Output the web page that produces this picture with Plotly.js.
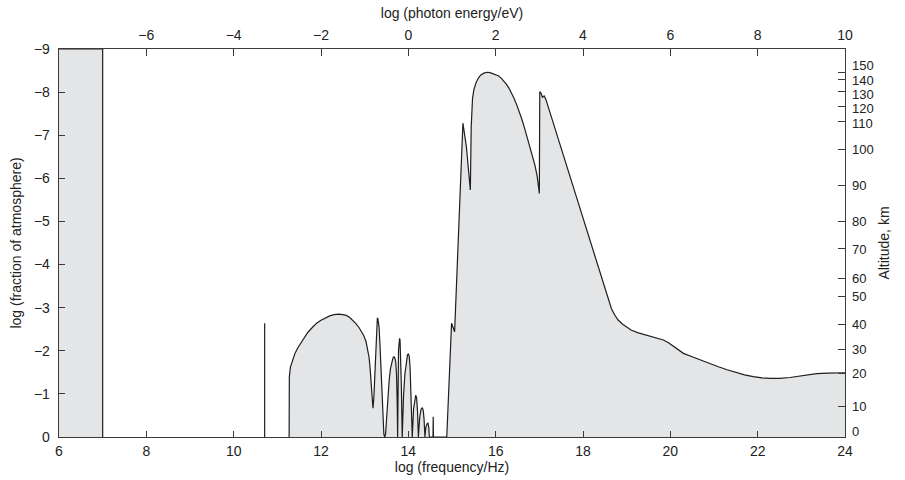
<!DOCTYPE html>
<html>
<head>
<meta charset="utf-8">
<script src="https://cdn.plot.ly/plotly-3.0.1.min.js"></script>
<style>html,body{margin:0;padding:0;background:#fff;}#chart{width:905px;height:480px;}</style>
</head>
<body>
<div id="chart"></div>
<script>
// log(frequency/Hz) and log(fraction of atmosphere) along the absorption boundary
const logFreq = [
  11.27, 11.275, 11.30, 11.35, 11.40, 11.47, 11.55, 11.62, 11.70, 11.80, 11.90, 12.00, 12.10, 12.20, 12.30,
  12.40, 12.50, 12.58, 12.66, 12.73, 12.80, 12.87, 12.93, 12.98, 13.03, 13.07, 13.10, 13.12, 13.14, 13.15,
  13.17, 13.19, 13.21, 13.23, 13.25, 13.27, 13.28, 13.29, 13.30, 13.31, 13.33, 13.35, 13.37, 13.40, 13.42,
  13.44, 13.46, 13.48, 13.50, 13.53, 13.56, 13.59, 13.62, 13.65, 13.67, 13.69, 13.71, 13.73, 13.745, 13.75,
  13.755, 13.775, 13.79, 13.80, 13.81, 13.82, 13.84, 13.86, 13.87, 13.89, 13.92, 13.95, 13.98, 14.00, 14.02,
  14.04, 14.06, 14.08, 14.09, 14.12, 14.15, 14.17, 14.19, 14.21, 14.23, 14.26, 14.29, 14.32, 14.34, 14.36,
  14.38, 14.40, 14.43, 14.45, 14.47, 14.48, 14.565, 14.57, 14.575, 14.88, 14.99, 15.06, 15.25, 15.33, 15.42,
  15.44, 15.45, 15.47, 15.50, 15.55, 15.60, 15.66, 15.73, 15.80, 15.87, 15.94, 16.00, 16.06, 16.12, 16.18,
  16.24, 16.30, 16.36, 16.42, 16.48, 16.54, 16.60, 16.66, 16.72, 16.78, 16.84, 16.90, 16.95, 16.98, 17.00,
  17.01, 17.04, 17.07, 17.11, 17.15, 17.47, 17.93, 18.31, 18.58, 18.65, 18.72, 18.80, 18.90, 19.00, 19.10,
  19.25, 19.40, 19.55, 19.70, 19.84, 19.95, 20.05, 20.11, 20.20, 20.30, 20.50, 20.70, 20.90, 21.10, 21.30,
  21.50, 21.70, 21.90, 22.10, 22.30, 22.50, 22.74, 22.95, 23.15, 23.35, 23.60, 24.00
];
const logFraction = [
  0, -1.40, -1.62, -1.80, -1.93, -2.07, -2.20, -2.32, -2.43, -2.54, -2.64, -2.71, -2.77, -2.81, -2.84,
  -2.85, -2.84, -2.82, -2.77, -2.71, -2.63, -2.54, -2.45, -2.35, -2.22, -2.05, -1.85, -1.65, -1.40, -1.15,
  -0.85, -0.67, -0.90, -1.45, -2.02, -2.55, -2.70, -2.75, -2.75, -2.70, -2.55, -2.15, -1.63, -0.80, -0.30,
  -0.06, 0, -0.08, -0.40, -0.95, -1.30, -1.58, -1.75, -1.84, -1.86, -1.83, -1.75, -1.45, -0.80, 0,
  0, -2.02, -2.24, -2.29, -2.24, -2.02, -1.20, 0, -0.50, -0.95, -1.45, -1.75, -1.90, -1.93, -1.87,
  -1.62, -1.10, -0.40, 0, -0.65, -0.92, -0.97, -0.90, -0.60, 0, -0.45, -0.64, -0.68, -0.62, -0.42,
  0, -0.22, -0.31, -0.32, -0.20, 0, 0, -0.47, 0, 0, -2.64, -2.44, -7.28, -6.73, -5.73,
  -7.20, -7.55, -7.85, -8.05, -8.22, -8.32, -8.40, -8.44, -8.46, -8.45, -8.43, -8.41, -8.38, -8.33, -8.27,
  -8.19, -8.10, -7.99, -7.86, -7.71, -7.55, -7.37, -7.17, -6.96, -6.74, -6.52, -6.30, -6.05, -5.85, -5.65,
  -8.01, -7.97, -7.88, -7.91, -7.83, -6.80, -5.29, -4.05, -3.18, -2.98, -2.84, -2.72, -2.62, -2.54, -2.48,
  -2.42, -2.38, -2.34, -2.30, -2.25, -2.19, -2.12, -2.08, -2.00, -1.94, -1.86, -1.78, -1.71, -1.63, -1.56,
  -1.50, -1.44, -1.40, -1.37, -1.36, -1.36, -1.38, -1.41, -1.44, -1.47, -1.48, -1.49
];
// low-frequency fully absorbed band
const blockFreq = [6, 7, 7];
const blockFraction = [-9, -9, 0];
// narrow line near 10.7
const lineFreq = [10.71, 10.71];
const lineFraction = [0, -2.64];

// axis ticks
const freqTicks = [6, 8, 10, 12, 14, 16, 18, 20, 22, 24];
const energyTicks = [-6, -4, -2, 0, 2, 4, 6, 8, 10];
const fractionTicks = [0, -1, -2, -3, -4, -5, -6, -7, -8, -9];
const altitudeLabels = ['0', '10', '20', '30', '40', '50', '60', '70', '80', '90', '100', '110', '120', '130', '140', '150'];
const altitudeTickFraction = [0, -0.70, -1.48, -2.02, -2.61, -3.27, -3.68, -4.38, -4.99, -5.83, -6.66, -7.33, -7.66, -8.01, -8.30, -8.45];
const altitudeLabelFraction = [-0.12, -0.70, -1.48, -2.02, -2.61, -3.25, -3.68, -4.34, -4.99, -5.83, -6.66, -7.28, -7.61, -7.94, -8.27, -8.61];

const FILL = '#e4e5e7';
const INK = '#1e1e1e';
const AX = '#3a3a3a';
const FONT = {family: 'Liberation Sans, Arial, sans-serif', size: 14, color: '#222'};

const traces = [
  {x: blockFreq, y: blockFraction, type: 'scatter', mode: 'lines', fill: 'tozeroy',
   fillcolor: FILL, line: {color: INK, width: 1.2}, hoverinfo: 'skip', showlegend: false},
  {x: logFreq, y: logFraction, type: 'scatter', mode: 'lines', fill: 'tozeroy',
   fillcolor: FILL, line: {color: INK, width: 1.2}, showlegend: false},
  {x: lineFreq, y: lineFraction, type: 'scatter', mode: 'lines',
   line: {color: INK, width: 1.2}, showlegend: false},
  // invisible traces to activate secondary axes
  {x: [-8, 10], y: [0, 0], xaxis: 'x2', yaxis: 'y', type: 'scatter', mode: 'lines',
   line: {width: 0}, hoverinfo: 'skip', showlegend: false},
  {x: [6, 24], y: [0, 0], xaxis: 'x', yaxis: 'y2', type: 'scatter', mode: 'lines',
   line: {width: 0}, hoverinfo: 'skip', showlegend: false},
  {x: [6, 24], y: [0, 0], xaxis: 'x', yaxis: 'y3', type: 'scatter', mode: 'lines',
   line: {width: 0}, hoverinfo: 'skip', showlegend: false}
];

const layout = {
  width: 905, height: 480,
  margin: {l: 59, r: 60, t: 49, b: 43},
  paper_bgcolor: '#fff', plot_bgcolor: '#fff',
  font: FONT,
  showlegend: false,
  xaxis: {
    range: [6, 24], tickvals: freqTicks, ticks: 'inside', ticklen: 6, tickcolor: AX, tickwidth: 1,
    showline: true, linecolor: AX, linewidth: 1.3, showgrid: false, zeroline: false,
    title: {text: 'log (frequency/Hz)', font: FONT, standoff: 1},
    ticklabelstandoff: 1
  },
  xaxis2: {
    overlaying: 'x', side: 'top', anchor: 'y', range: [-8, 10], tickvals: energyTicks,
    ticks: 'inside', ticklen: 7, tickcolor: AX, tickwidth: 1,
    showline: true, linecolor: AX, linewidth: 1.3, showgrid: false, zeroline: false,
    title: {text: 'log (photon energy/eV)', font: FONT, standoff: 5},
    ticklabelstandoff: 2
  },
  yaxis: {
    range: [0, -9], tickvals: fractionTicks, ticks: 'inside', ticklen: 6, tickcolor: AX, tickwidth: 1,
    showline: true, linecolor: AX, linewidth: 1.3, showgrid: false, zeroline: false,
    title: {text: 'log (fraction of atmosphere)', font: FONT, standoff: 9},
    ticklabelstandoff: 5
  },
  yaxis2: {
    overlaying: 'y', side: 'right', anchor: 'x', range: [0, -9],
    tickvals: altitudeTickFraction, ticktext: altitudeLabels, showticklabels: false,
    ticks: 'inside', ticklen: 7, tickcolor: AX, tickwidth: 1,
    showline: true, linecolor: AX, linewidth: 1.3, showgrid: false, zeroline: false
  },
  yaxis3: {
    overlaying: 'y', side: 'right', anchor: 'x', range: [0, -9],
    tickvals: altitudeLabelFraction, ticktext: altitudeLabels,
    tickfont: {family: FONT.family, size: 13, color: '#222'},
    ticks: '', showline: false, showgrid: false, zeroline: false,
    title: {text: 'Altitude, km', font: FONT, standoff: 6},
    ticklabelstandoff: 6
  }
};

Plotly.newPlot('chart', traces, layout, {staticPlot: true, displayModeBar: false});
</script>
</body>
</html>
